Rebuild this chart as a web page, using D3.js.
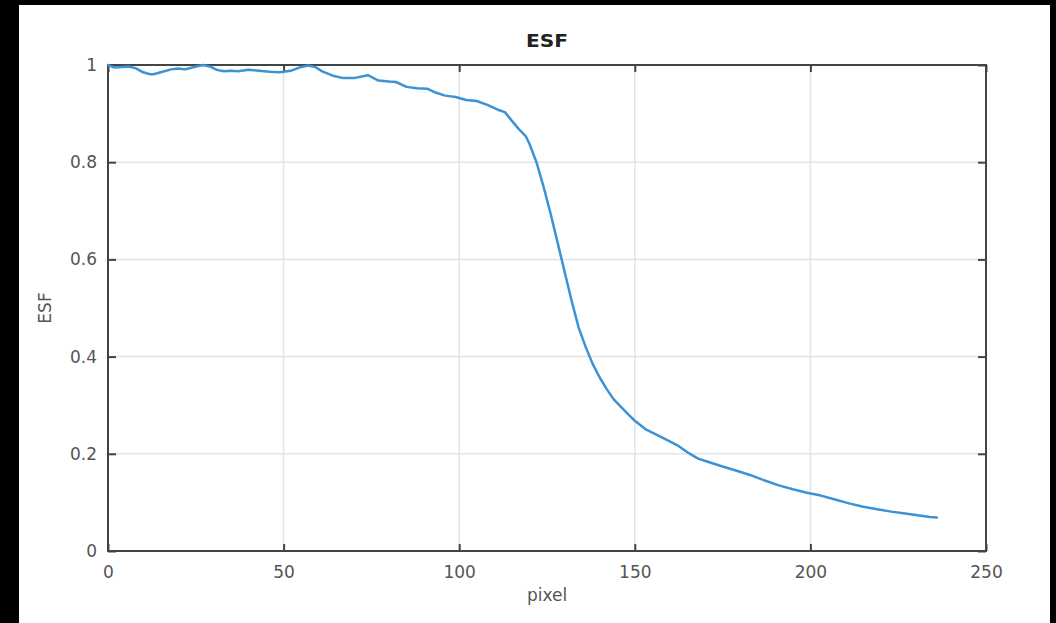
<!DOCTYPE html>
<html>
<head>
<meta charset="utf-8">
<script src="https://cdn.jsdelivr.net/npm/d3@7"></script>
<style>
  body { margin: 0; background: #000; }
  svg { display: block; }
  text { font-family: "DejaVu Sans", sans-serif; }
</style>
</head>
<body>
<svg width="1056" height="623"></svg>
<script>
const pixel = [0, 1, 2, 4, 6, 8, 10, 12, 13, 15, 18, 20, 22, 24, 27, 29, 31, 33, 35, 37,
    40, 43, 46, 49, 52, 55, 57, 59, 61, 64, 67, 70, 74, 77, 80, 82, 85, 88, 91, 93,
    96, 99, 102, 105, 108, 111, 113, 115, 117, 119, 120, 122, 124, 126, 128, 130, 132, 134, 136, 138,
    140, 142, 144, 146, 148, 150, 153, 156, 159, 162, 165, 168, 171, 175, 179, 183, 187, 191, 195, 199,
    203, 207, 211, 215, 219, 223, 227, 231, 234, 236];
const esf = [1.0, 0.997, 0.995, 0.996, 0.997, 0.993, 0.985, 0.981, 0.981, 0.985, 0.991, 0.993, 0.991, 0.995, 1.0, 0.997, 0.99, 0.987, 0.988, 0.987,
    0.99, 0.988, 0.986, 0.985, 0.988, 0.996, 0.999, 0.996, 0.987, 0.978, 0.973, 0.973, 0.979, 0.968, 0.966, 0.965, 0.955, 0.952, 0.951, 0.944,
    0.937, 0.934, 0.928, 0.926, 0.918, 0.908, 0.903, 0.885, 0.868, 0.853, 0.838, 0.8, 0.75, 0.695, 0.635, 0.575, 0.515, 0.46, 0.42, 0.385,
    0.357, 0.333, 0.312, 0.297, 0.282, 0.268, 0.251, 0.24, 0.229, 0.218, 0.203, 0.19, 0.183, 0.174, 0.165, 0.156, 0.145, 0.135, 0.127, 0.12,
    0.114, 0.106, 0.098, 0.091, 0.086, 0.081, 0.077, 0.073, 0.07, 0.069];
const xTicks = [0, 50, 100, 150, 200, 250];
const yTicks = [0, 0.2, 0.4, 0.6, 0.8, 1];

const data = pixel.map((p, i) => ({pixel: p, value: esf[i]}));

const svg = d3.select("svg"),
    margin = {top: 65, right: 70, bottom: 72, left: 108},
    width = +svg.attr("width") - margin.left - margin.right,
    height = +svg.attr("height") - margin.top - margin.bottom;

// black frame with white canvas
svg.append("rect").attr("width", 1056).attr("height", 623).attr("fill", "#000");
svg.append("rect").attr("x", 19).attr("y", 5).attr("width", 1031).attr("height", 618).attr("fill", "#fff");

const x = d3.scaleLinear().domain([0, 250]).range([0, width]),
    y = d3.scaleLinear().domain([0, 1]).range([height, 0]);

const g = svg.append("g")
    .attr("transform", `translate(${margin.left},${margin.top})`);

// grid
g.append("g").selectAll("line").data(xTicks.slice(1, -1)).join("line")
    .attr("x1", d => x(d)).attr("x2", d => x(d))
    .attr("y1", 0).attr("y2", height)
    .attr("stroke", "#e3e3e3").attr("stroke-width", 1.5);
g.append("g").selectAll("line").data(yTicks.slice(1, -1)).join("line")
    .attr("x1", 0).attr("x2", width)
    .attr("y1", d => y(d)).attr("y2", d => y(d))
    .attr("stroke", "#e3e3e3").attr("stroke-width", 1.5);

// axes with inward ticks
const tickStyle = a => {
    a.select(".domain").remove();
    a.selectAll(".tick line").attr("stroke", "#444").attr("stroke-width", 2);
    a.selectAll(".tick text").attr("fill", "#555").attr("font-size", 17)
        .attr("font-family", "'DejaVu Sans', sans-serif");
};

g.append("g")
    .attr("transform", `translate(0,${height})`)
    .call(d3.axisBottom(x).tickValues(xTicks).tickSize(-7).tickPadding(15))
    .call(tickStyle);

g.append("g")
    .call(d3.axisTop(x).tickValues(xTicks).tickSize(-7).tickFormat(""))
    .call(tickStyle);

g.append("g")
    .call(d3.axisLeft(y).tickValues(yTicks).tickSize(-8).tickPadding(11).tickFormat(d3.format("~g")))
    .call(tickStyle);

g.append("g")
    .attr("transform", `translate(${width},0)`)
    .call(d3.axisRight(y).tickValues(yTicks).tickSize(-8).tickFormat(""))
    .call(tickStyle);

// box
g.append("rect")
    .attr("width", width).attr("height", height)
    .attr("fill", "none").attr("stroke", "#444").attr("stroke-width", 2);

const line = d3.line()
    .x(d => x(d.pixel))
    .y(d => y(d.value));

g.append("path")
    .datum(data)
    .attr("fill", "none")
    .attr("stroke", "#3d92d4")
    .attr("stroke-linejoin", "round")
    .attr("stroke-linecap", "round")
    .attr("stroke-width", 2.5)
    .attr("d", line);

// titles
g.append("text")
    .attr("transform", `translate(${width / 2},${-18}) scale(1.12,1)`)
    .attr("text-anchor", "middle")
    .attr("font-size", 18).attr("font-weight", "bold").attr("fill", "#222")
    .text("ESF");

g.append("text")
    .attr("x", width / 2).attr("y", height + 50)
    .attr("text-anchor", "middle")
    .attr("font-size", 17).attr("fill", "#555")
    .text("pixel");

g.append("text")
    .attr("transform", `translate(${-57},${height / 2}) rotate(-90)`)
    .attr("text-anchor", "middle")
    .attr("font-size", 17).attr("fill", "#555")
    .text("ESF");
</script>
</body>
</html>
